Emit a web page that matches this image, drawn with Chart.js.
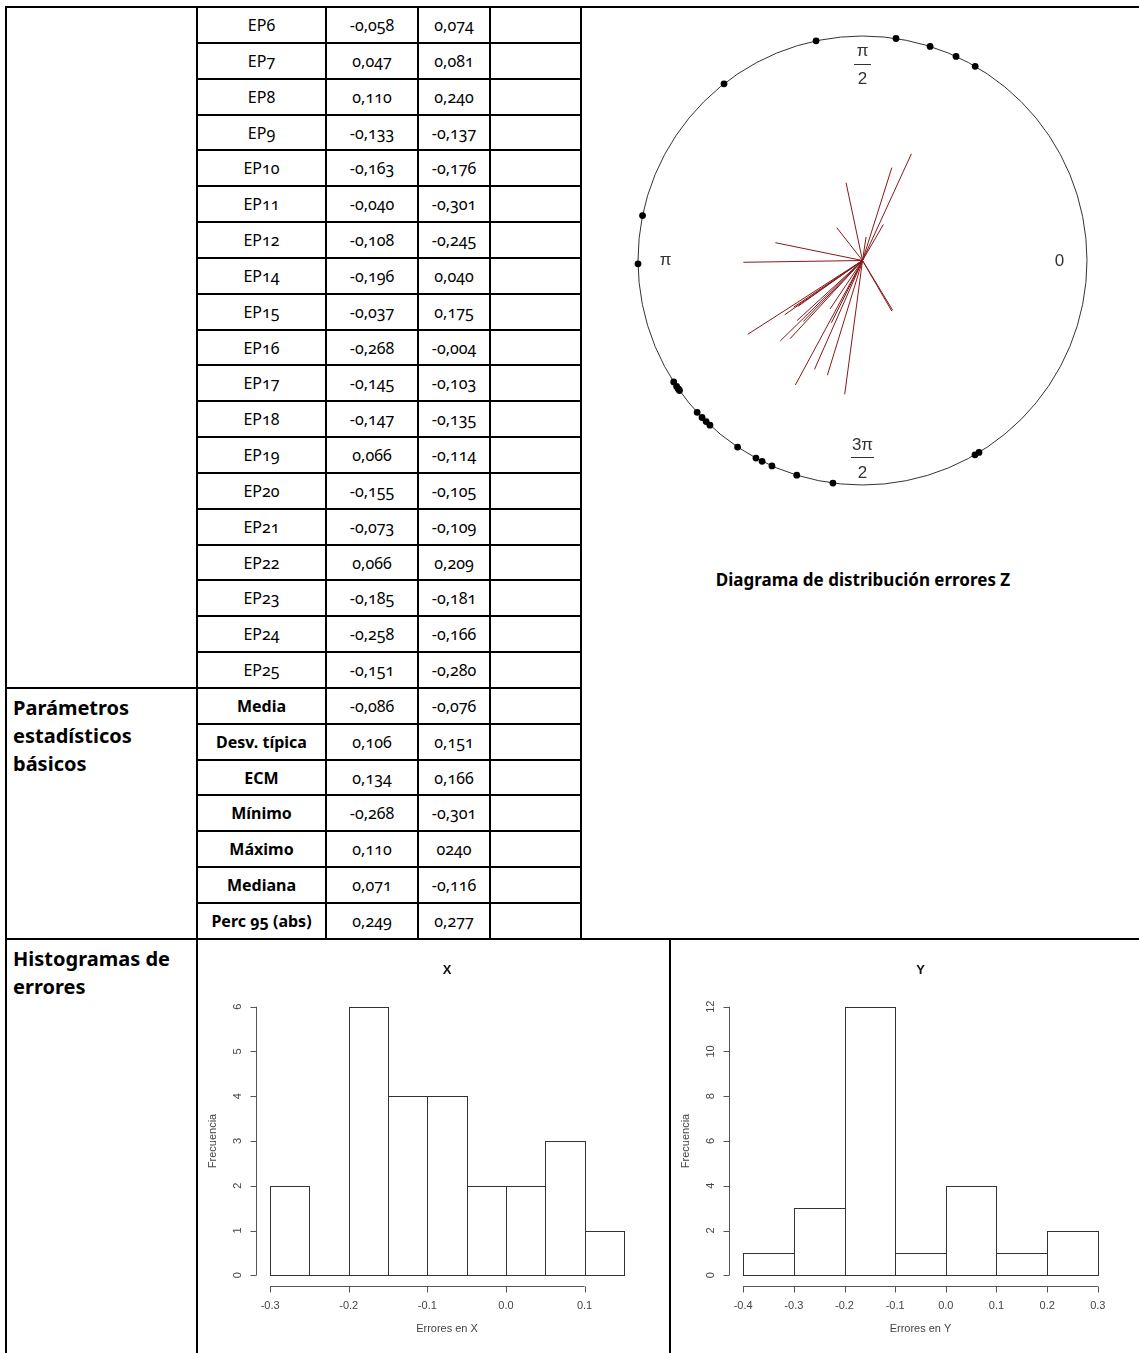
<!DOCTYPE html>
<html>
<head>
<meta charset="utf-8">
<script src="https://cdn.jsdelivr.net/npm/chart.js@4.4.1/dist/chart.umd.min.js"></script>
<style>
  html, body { margin: 0; padding: 0; background: #fff; }
  body { width: 1139px; height: 1353px; overflow: hidden; position: relative; font-family: "Noto Sans", "Open Sans", sans-serif; }
  .cell { position: absolute; box-sizing: border-box; border: 2px solid #000; display: flex; align-items: center; justify-content: center; font-size: 16px; color: #000; font-variant-numeric: oldstyle-nums; }
  .cell.b { font-weight: 700; }
  .cell.side { display: block; padding: 5px 6px; font-weight: 700; font-size: 20px; line-height: 28px; }
  canvas { position: absolute; }
  #caption { position: absolute; left: 582px; width: 562px; top: 569px; text-align: center; font-weight: 700; font-size: 17px; line-height: 22px; }
</style>
</head>
<body>
<canvas id="circChart" width="489" height="489" style="left:618px;top:16px"></canvas>
<div id="caption">Diagrama de distribución errores Z</div>
<canvas id="histX" width="471" height="414" style="left:199px;top:939px"></canvas>
<canvas id="histY" width="468" height="414" style="left:671px;top:939px"></canvas>
<script>
// errors per check point (visible rows of the table)
const epLabels = ['EP6', 'EP7', 'EP8', 'EP9', 'EP10', 'EP11', 'EP12', 'EP14', 'EP15', 'EP16', 'EP17', 'EP18', 'EP19', 'EP20', 'EP21', 'EP22', 'EP23', 'EP24', 'EP25'];
const errX = [-0.058, 0.047, 0.110, -0.133, -0.163, -0.040, -0.108, -0.196, -0.037, -0.268, -0.145, -0.147, 0.066, -0.155, -0.073, 0.066, -0.185, -0.258, -0.151];
const errY = [0.074, 0.081, 0.240, -0.137, -0.176, -0.301, -0.245, 0.040, 0.175, -0.004, -0.103, -0.135, -0.114, -0.105, -0.109, 0.209, -0.181, -0.166, -0.280];
// EP1-EP5 sit above the visible part of the table, estimated from the circular plot
const hiddenX = [0.008, -0.079, -0.070, 0.068, -0.175];
const hiddenY = [0.053, -0.258, -0.140, -0.112, -0.122];

const statLabels = ['Media', 'Desv. típica', 'ECM', 'Mínimo', 'Máximo', 'Mediana', 'Perc 95 (abs)'];
const statX = ['-0,086', '0,106', '0,134', '-0,268', '0,110', '0,071', '0,249'];
const statY = ['-0,076', '0,151', '0,166', '-0,301', '0240', '-0,116', '0,277'];

// histograms
const edgesX = [-0.30, -0.25, -0.20, -0.15, -0.10, -0.05, 0.00, 0.05, 0.10, 0.15];
const countsX = [2, 0, 6, 4, 4, 2, 2, 3, 1];
const xTicksX = [-0.3, -0.2, -0.1, 0.0, 0.1];
const yTicksX = [0, 1, 2, 3, 4, 5, 6];

const edgesY = [-0.4, -0.3, -0.2, -0.1, 0.0, 0.1, 0.2, 0.3];
const countsY = [1, 3, 12, 1, 4, 1, 2];
const xTicksY = [-0.4, -0.3, -0.2, -0.1, 0.0, 0.1, 0.2, 0.3];
const yTicksY = [0, 2, 4, 6, 8, 10, 12];

// ---- table layout ----
const colL = [5, 196, 325, 417, 489, 580, 669, 1141];
const rowT = i => Math.round(6 + i * 35.84);
const BOTTOM = 1356;

function cell(c0, c1, top, bottom, html, cls) {
  const d = document.createElement('div');
  d.className = 'cell' + (cls ? ' ' + cls : '');
  d.style.left = colL[c0] + 'px';
  d.style.width = (colL[c1] - colL[c0] + 2) + 'px';
  d.style.top = top + 'px';
  d.style.height = (bottom - top + 2) + 'px';
  d.innerHTML = html || '';
  document.body.insertBefore(d, document.body.firstChild);
}

const fmt = v => v.toFixed(3).replace('.', ',');

epLabels.forEach((lab, i) => {
  const t = rowT(i), b = rowT(i + 1);
  cell(1, 2, t, b, lab);
  cell(2, 3, t, b, fmt(errX[i]));
  cell(3, 4, t, b, fmt(errY[i]));
  cell(4, 5, t, b, '');
});
statLabels.forEach((lab, j) => {
  const i = epLabels.length + j;
  const t = rowT(i), b = rowT(i + 1);
  cell(1, 2, t, b, lab, 'b');
  cell(2, 3, t, b, statX[j]);
  cell(3, 4, t, b, statY[j]);
  cell(4, 5, t, b, '');
});
const nRows = epLabels.length + statLabels.length;
cell(0, 1, rowT(0), rowT(epLabels.length), '');
cell(0, 1, rowT(epLabels.length), rowT(nRows), 'Parámetros<br>estadísticos<br>básicos', 'side');
cell(0, 1, rowT(nRows), BOTTOM, 'Histogramas de<br>errores', 'side');
cell(5, 7, rowT(0), rowT(nRows), '');
cell(1, 6, rowT(nRows), BOTTOM, '');
cell(6, 7, rowT(nRows), BOTTOM, '');

// ---- circular distribution plot ----
const allX = hiddenX.concat(errX);
const allY = hiddenY.concat(errY);
const RING = 0.505;

const dots = allX.map((x, i) => {
  const a = Math.atan2(allY[i], x);
  return { x: RING * Math.cos(a), y: RING * Math.sin(a) };
});
const vectors = allX.map((x, i) => ({
  data: [{ x: 0, y: 0 }, { x: x, y: allY[i] }],
  showLine: true,
  borderColor: '#841818',
  borderWidth: 1,
  pointRadius: 0,
  clip: false
}));

const ringPlugin = {
  id: 'ring',
  beforeDatasetsDraw(chart) {
    const { ctx, scales: { x, y } } = chart;
    const cx = x.getPixelForValue(0), cy = y.getPixelForValue(0);
    const r = x.getPixelForValue(RING) - cx;
    ctx.save();
    ctx.strokeStyle = '#333';
    ctx.lineWidth = 1;
    ctx.beginPath();
    ctx.arc(cx, cy, r, 0, Math.PI * 2);
    ctx.stroke();

    const lr = 0.443;
    ctx.fillStyle = '#333';
    ctx.font = '17px "Liberation Sans", Arial, sans-serif';
    ctx.textAlign = 'center';
    ctx.textBaseline = 'middle';
    ctx.fillText('0', x.getPixelForValue(lr), cy + 1);
    ctx.fillText('\u03c0', x.getPixelForValue(-lr), cy);
    const frac = (num, py, half) => {
      ctx.fillText(num, cx, py - 12);
      ctx.fillText('2', cx, py + 16);
      ctx.beginPath();
      ctx.moveTo(cx - half, Math.round(py) + 0.5);
      ctx.lineTo(cx + half, Math.round(py) + 0.5);
      ctx.stroke();
    };
    frac('\u03c0', y.getPixelForValue(lr), 8.5);
    frac('3\u03c0', y.getPixelForValue(-lr), 11.5);
    ctx.restore();
  }
};

new Chart(document.getElementById('circChart'), {
  type: 'scatter',
  data: {
    datasets: vectors.concat([{
      data: dots,
      pointRadius: 3.4,
      pointBackgroundColor: '#000',
      pointBorderWidth: 0,
      clip: false
    }])
  },
  options: {
    responsive: false,
    animation: false,
    events: [],
    layout: { padding: 0, autoPadding: false },
    plugins: { legend: { display: false }, tooltip: { enabled: false } },
    scales: {
      x: { display: false, min: -0.55, max: 0.55 },
      y: { display: false, min: -0.55, max: 0.55 }
    }
  },
  plugins: [ringPlugin]
});

// ---- histograms (R style) ----
const rAxes = {
  id: 'rAxes',
  afterDatasetsDraw(chart, args, o) {
    const { ctx, chartArea: a, scales: { x, y } } = chart;
    ctx.save();

    // bar outlines
    ctx.strokeStyle = '#333';
    ctx.lineWidth = 1;
    chart.getDatasetMeta(0).data.forEach(el => {
      const l = Math.round(el.x - el.width / 2) + 0.5;
      const r = Math.round(el.x + el.width / 2) + 0.5;
      const t = Math.round(el.y) + 0.5;
      const b = Math.round(el.base) + 0.5;
      ctx.strokeRect(l, t, r - l, b - t);
    });

    ctx.strokeStyle = '#555';
    ctx.fillStyle = '#444';
    ctx.font = '11px "Liberation Sans", Arial, sans-serif';
    ctx.textAlign = 'center';
    ctx.textBaseline = 'middle';

    // x axis
    const yb = Math.round(a.bottom) + 0.5;
    ctx.beginPath();
    ctx.moveTo(x.getPixelForValue(o.xTicks[0]), yb);
    ctx.lineTo(x.getPixelForValue(o.xTicks[o.xTicks.length - 1]), yb);
    o.xTicks.forEach(v => {
      const px = Math.round(x.getPixelForValue(v)) + 0.5;
      ctx.moveTo(px, yb);
      ctx.lineTo(px, yb + 6);
    });
    ctx.stroke();
    o.xTicks.forEach(v => ctx.fillText(v.toFixed(1), x.getPixelForValue(v), yb + 19));

    // y axis
    const xl = Math.round(a.left) + 0.5;
    ctx.beginPath();
    ctx.moveTo(xl, y.getPixelForValue(o.yTicks[0]));
    ctx.lineTo(xl, y.getPixelForValue(o.yTicks[o.yTicks.length - 1]));
    o.yTicks.forEach(v => {
      const py = Math.round(y.getPixelForValue(v)) + 0.5;
      ctx.moveTo(xl, py);
      ctx.lineTo(xl - 6, py);
    });
    ctx.stroke();
    o.yTicks.forEach(v => {
      ctx.save();
      ctx.translate(xl - 19, y.getPixelForValue(v));
      ctx.rotate(-Math.PI / 2);
      ctx.fillText(String(v), 0, 0);
      ctx.restore();
    });

    // titles
    ctx.fillText(o.xLabel, (a.left + a.right) / 2, a.bottom + 43);
    ctx.save();
    ctx.translate(a.left - 43, (a.top + a.bottom) / 2);
    ctx.rotate(-Math.PI / 2);
    ctx.fillText('Frecuencia', 0, 0);
    ctx.restore();
    ctx.fillStyle = '#111';
    ctx.font = 'bold 13px "Liberation Sans", Arial, sans-serif';
    ctx.fillText(o.title, (a.left + a.right) / 2, 31);
    ctx.restore();
  }
};

function histogram(id, edges, counts, xTicks, yTicks, title, xLabel, pad) {
  const xPad = (edges[edges.length - 1] - edges[0]) * 0.04;
  const yMax = yTicks[yTicks.length - 1];
  new Chart(document.getElementById(id), {
    type: 'bar',
    data: {
      datasets: [{
        data: counts.map((c, i) => ({ x: (edges[i] + edges[i + 1]) / 2, y: c })),
        backgroundColor: '#fff',
        borderWidth: 0,
        categoryPercentage: 1,
        barPercentage: 1
      }]
    },
    options: {
      responsive: false,
      animation: false,
      events: [],
      layout: { padding: pad, autoPadding: false },
      plugins: {
        legend: { display: false },
        tooltip: { enabled: false },
        rAxes: { title: title, xLabel: xLabel, xTicks: xTicks, yTicks: yTicks }
      },
      scales: {
        x: {
          type: 'linear', display: false, offset: false,
          min: edges[0] - xPad, max: edges[edges.length - 1] + xPad,
          afterBuildTicks: s => { s.ticks = edges.map(v => ({ value: v })); }
        },
        y: { display: false, min: -yMax * 0.04, max: yMax * 1.04 }
      }
    },
    plugins: [rAxes]
  });
}

histogram('histX', edgesX, countsX, xTicksX, yTicksX, 'X', 'Errores en X',
  { left: 57, right: 32, top: 57, bottom: 67 });
histogram('histY', edgesY, countsY, xTicksY, yTicksY, 'Y', 'Errores en Y',
  { left: 58, right: 27, top: 57, bottom: 67 });
</script>
</body>
</html>
